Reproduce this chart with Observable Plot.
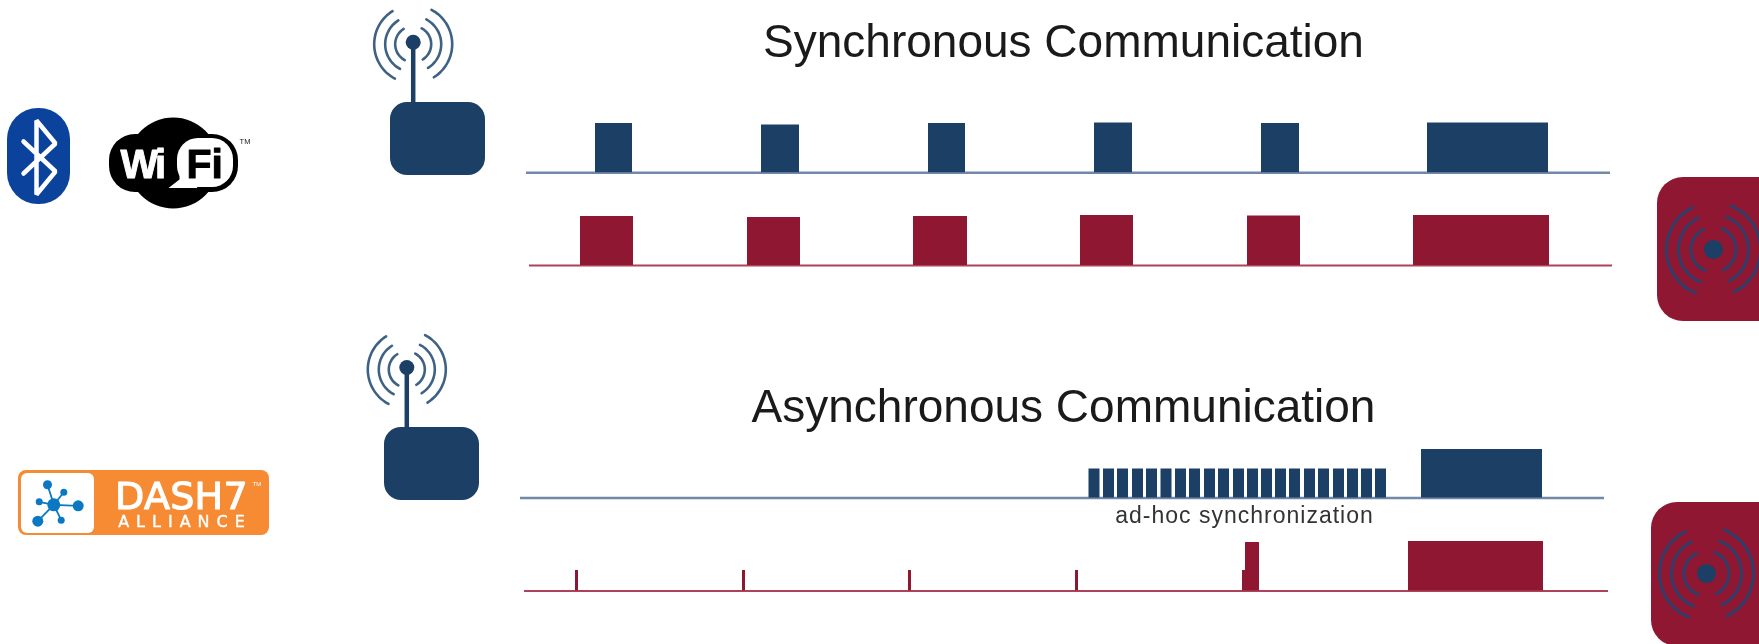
<!DOCTYPE html>
<html><head><meta charset="utf-8">
<script src="https://cdn.jsdelivr.net/npm/d3@7"></script>
<script src="https://cdn.jsdelivr.net/npm/@observablehq/plot@0.6"></script>
<style>
html,body{margin:0;padding:0;background:#fff;overflow:hidden}
svg{display:block;filter:blur(0.45px)}
.sp-adhoc{letter-spacing:1px}
.sp-wi{letter-spacing:-3px}
.sp-dash{letter-spacing:0.3px}
.sp-alliance{letter-spacing:7px}
</style>
</head><body><div id="chart"></div>
<script>
const BLUE="#1c3f66", RED="#8f1731", LINE_BLUE="#7189a6", LINE_RED="#ad4259", ARC_BLUE="#3f6284", ARC_DARK="#2f3d68";

// Baselines: [x1, x2, y]
const baselineBlueSync=[526,1610,172.2];
const baselineRedSync=[529,1612,265];
const baselineBlueAsync=[520,1604,497.5];
const baselineRedAsync=[524,1608,590.4];

// Bursts: [x1, x2, top]
const burstsBlueSync=[[595,632,123],[761,799,124.5],[928,965,123],[1094,1132,122.5],[1261,1299,123],[1427,1548,122.5]];
const burstsRedSync=[[580,633,216],[747,800,217],[913,967,216],[1080,1133,215],[1247,1300,215.5],[1413,1549,215]];
const burstsBlueAsync=[[1421,1542,449]];
const burstsRedAsync=[[575,578,570],[742,745,570],[908,911,570],[1075,1078,570],[1242,1245,570],[1245,1259,542],[1408,1543,541]];
const combStarts=[1088.5,1103,1117,1132,1146,1160.5,1175,1189,1204,1218,1233,1247,1261,1275,1289,1304,1318,1333,1347,1361,1375];
const combWidth=11, combTop=468.5;

const titles=[["Synchronous Communication",1063,56,46],["Asynchronous Communication",1063,421,46]];
const adHoc=["ad-hoc synchronization",1244,522,23];

const rects=(data,fill,base)=>Plot.rect(data,{x1:d=>d[0],x2:d=>d[1],y1:d=>d[2],y2:()=>base,fill});
const round=(a,b,c,d,rx,fill)=>Plot.rect([[a,b,c,d]],{x1:d=>d[0],x2:d=>d[1],y1:d=>d[2],y2:d=>d[3],rx,fill});
const rule=(b,stroke,w)=>Plot.ruleY([b[2]],{x1:b[0],x2:b[1],stroke,strokeWidth:w});

// Icon arcs: concentric antenna waves either side of a centre point
function waves(cx,cy,radii,span,stroke,strokeWidth){
  const pts=[];
  radii.forEach((r,i)=>[0,180].forEach(side=>{
    for(let a=-span;a<=span;a+=6){
      const t=(a+side)*Math.PI/180;
      pts.push({x:cx+r*Math.cos(t),y:cy+r*Math.sin(t),k:i+"-"+side});
    }
  }));
  return Plot.line(pts,{x:"x",y:"y",z:"k",stroke,strokeWidth,curve:"catmull-rom"});
}
const dot=(x,y,r,fill)=>Plot.dot([[x,y,r]],{x:d=>d[0],y:d=>d[1],r:d=>d[2],fill});
const segs=(pts,stroke,strokeWidth,extra={})=>Plot.line(pts,{x:d=>d[0],y:d=>d[1],stroke,strokeWidth,strokeLinejoin:"miter",...extra});
const label=(s,x,y,size,opts={})=>Plot.text([s],{x:()=>x,y:()=>y,text:d=>d,fontSize:size,lineAnchor:"bottom",fontFamily:"Liberation Sans",fill:"#1a1a1a",...opts});

function gateway(rx1,ry1,dx,dy){
  return [
    segs([[dx,dy],[dx,ry1+2]],BLUE,4.5),
    round(rx1,rx1+95,ry1,ry1+73,17,BLUE),
    waves(dx,dy+2,[18,28,39],62,ARC_BLUE,2.6),
    dot(dx,dy,7.5,BLUE)
  ];
}
function device(rx1,ry1,cx,cy){
  return [
    round(rx1,rx1+140,ry1,ry1+144,26,RED),
    waves(cx,cy,[22.5,35,47],68,ARC_DARK,3),
    dot(cx,cy,9.5,BLUE)
  ];
}
const hub=[[53.3,504.3,47,484.3,4.5],[53.3,504.3,63.3,491.7,3.5],[53.3,504.3,77.7,505.3,5.5],[53.3,504.3,60.7,519.7,3.5],[53.3,504.3,37.3,520.7,5.5],[53.3,504.3,38.7,501.3,3.5]];
const wifiBubbleTail=[[168,187.5],[179,179],[179,164],[197,187.5]];

const marks=[
  // Bluetooth
  round(7,70,108,204,31,"#0b429c"),
  segs([[23,141],[55,171],[36,194],[36,120],[55,143],[23,173]],"#fff",4.5),
  // Wi-Fi
  Plot.dot([[172.7,162.5]],{x:d=>d[0],y:d=>d[1],r:45.5,fill:"#000"}),
  round(109,238,134,192,26,"#000"),
  round(177,233,138,187,21,"#fff"),
  Plot.line(wifiBubbleTail,{x:d=>d[0],y:d=>d[1],fill:"#fff",stroke:"none"}),
  label("Wi",120,177,40,{textAnchor:"start",fontWeight:700,fill:"#fff",stroke:"#fff",strokeWidth:1,className:"sp-wi"}),
  label("Fi",186,177,41,{textAnchor:"start",fontWeight:700,fill:"#000",stroke:"#000",strokeWidth:1}),
  label("TM",244.5,143,7.5,{fill:"#222"}),
  // DASH7
  round(18,269,470,535,8,"#f68b33"),
  round(21,94,473,533,6,"#fff"),
  Plot.link(hub,{x1:d=>d[0],y1:d=>d[1],x2:d=>d[2],y2:d=>d[3],stroke:"#0a78c2",strokeWidth:1.8}),
  Plot.dot(hub,{x:d=>d[2],y:d=>d[3],r:d=>d[4],fill:"#0a78c2"}),
  dot(53.3,504.3,6.5,"#0a78c2"),
  label("DASH7",181,508,38,{fontFamily:"DejaVu Sans",fill:"#fff",stroke:"#fff",strokeWidth:1.2,className:"sp-dash"}),
  label("ALLIANCE",184.5,526,16,{fontFamily:"DejaVu Sans",fill:"#fff",stroke:"#fff",strokeWidth:.4,className:"sp-alliance"}),
  label("TM",256.5,485,6,{fill:"#fff"}),
  // Icons
  ...gateway(390,102,412.7,41.7),
  ...gateway(384,427,406.3,367),
  ...device(1657,177,1713,249),
  ...device(1651,502,1706,573),
  // Signal traces
  rule(baselineBlueSync,LINE_BLUE,2.6),
  rule(baselineRedSync,LINE_RED,2),
  rule(baselineBlueAsync,LINE_BLUE,2.6),
  rule(baselineRedAsync,LINE_RED,2),
  rects(burstsBlueSync,BLUE,baselineBlueSync[2]),
  rects(burstsRedSync,RED,baselineRedSync[2]),
  rects(burstsBlueAsync,BLUE,baselineBlueAsync[2]),
  rects(burstsRedAsync,RED,baselineRedAsync[2]),
  Plot.rect(combStarts,{x1:d=>d,x2:d=>d+combWidth,y1:()=>combTop,y2:()=>baselineBlueAsync[2],fill:BLUE}),
  // Titles
  ...titles.map(t=>label(t[0],t[1],t[2],t[3])),
  label(adHoc[0],adHoc[1],adHoc[2],adHoc[3],{fill:"#333",className:"sp-adhoc"})
];

document.getElementById("chart").append(Plot.plot({
  width:1759,height:644,margin:0,
  x:{domain:[0,1759],range:[0,1759],axis:null},
  y:{domain:[0,644],range:[0,644],axis:null},
  r:{type:"identity"},
  style:{background:"#fff"},
  marks
}));
</script></body></html>
